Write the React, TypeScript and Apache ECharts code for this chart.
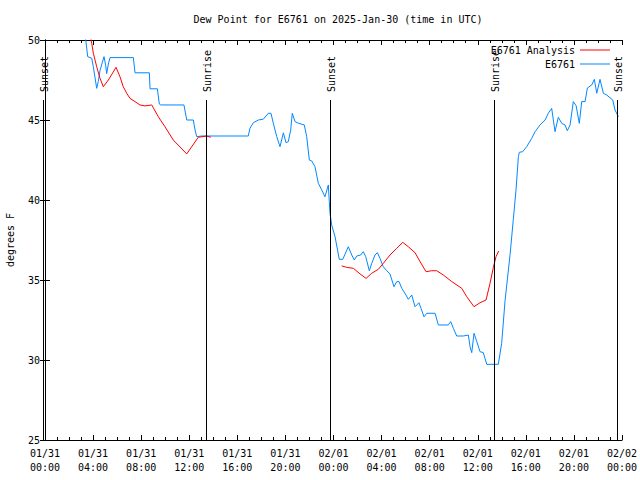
import React, { useEffect, useRef } from "react";
import * as echarts from "echarts";

// Hours since 2025-01-31 00:00 UTC
const tickDates = ["01/31", "01/31", "01/31", "01/31", "01/31", "01/31", "02/01", "02/01", "02/01", "02/01", "02/01", "02/01", "02/02"];
const tickTimes = ["00:00", "04:00", "08:00", "12:00", "16:00", "20:00", "00:00", "04:00", "08:00", "12:00", "16:00", "20:00", "00:00"];

const sunHours = [-0.19, 13.38, 23.71, 37.38, 47.61];
const sunLabels = ["Sunset", "Sunrise", "Sunset", "Sunrise", "Sunset"];

const obsHours = [
  3.3, 3.39, 3.55, 3.89, 4.02, 4.3, 4.43, 4.58, 4.77, 4.91, 5.05, 5.13, 5.27, 5.41, 7.35, 7.49, 8.68, 8.74, 9.35, 9.51,
  9.63, 11.56, 11.79, 12.34, 12.48, 12.62, 13.04, 16.91, 17.05, 17.33, 17.75, 18.16, 18.58, 18.8, 18.99, 19.28, 19.55, 19.83, 20.05, 20.24,
  20.44, 20.57, 20.8, 21.07, 21.57, 21.77, 21.99, 22.19, 22.46, 22.74, 23.02, 23.29, 23.57, 23.65, 23.71, 23.85, 24.13, 24.48, 24.77, 25.23,
  25.52, 25.73, 25.93, 26.26, 26.48, 26.68, 26.98, 27.18, 27.45, 27.65, 27.87, 28.14, 28.43, 28.7, 29.03, 29.26, 29.45, 29.68, 30.03, 30.22,
  30.51, 30.78, 31.11, 31.28, 31.53, 31.76, 32.45, 32.72, 33.55, 33.75, 33.97, 34.25, 34.8, 35.22, 35.36, 35.5, 35.69, 35.92, 36.19, 36.46,
  36.75, 37.71, 37.99, 38.27, 38.69, 38.96, 39.18, 39.38, 39.46, 39.74, 40.07, 40.49, 40.77, 41.18, 41.6, 41.87, 42.15, 42.43, 42.7, 42.99,
  43.26, 43.45, 43.68, 43.95, 44.18, 44.45, 44.65, 44.93, 45.12, 45.48, 45.7, 45.9, 46.17, 46.45, 46.73, 47.23, 47.42, 47.7,
];
const obsValues = [
  50.4, 50.0, 48.96, 48.86, 48.33, 46.98, 47.4, 48.1, 48.6, 48.96, 48.4, 47.9, 48.5, 48.9, 48.9, 47.95, 47.95, 46.95, 46.95, 46.0,
  45.94, 45.94, 45.0, 45.0, 44.38, 43.96, 44.0, 44.0, 44.48, 44.83, 45.0, 45.05, 45.42, 45.42, 44.8, 43.96, 43.33, 44.2, 43.58, 43.65,
  44.38, 45.42, 44.9, 44.8, 44.69, 43.96, 42.5, 42.44, 42.08, 41.04, 40.63, 40.2, 40.94, 39.9, 39.17, 38.44, 37.7, 36.29, 36.29, 37.08,
  36.56, 36.25, 36.5, 36.56, 36.77, 36.46, 35.58, 36.04, 36.56, 36.71, 36.35, 35.83, 35.58, 35.38, 34.58, 34.9, 34.9, 34.48, 34.06, 33.79,
  34.06, 33.33, 33.58, 33.23, 32.7, 32.92, 32.92, 32.19, 32.19, 32.4, 31.98, 31.5, 31.5, 31.56, 30.83, 30.46, 31.67, 31.15, 30.52, 30.46,
  29.73, 29.73, 31.04, 33.7, 36.6, 38.8, 40.6, 42.71, 42.98, 43.02, 43.33, 43.85, 44.27, 44.69, 45.0, 45.42, 45.73, 44.27, 45.17, 44.79,
  44.69, 44.33, 44.69, 46.15, 45.9, 44.79, 46.15, 46.15, 47.0, 47.19, 47.54, 46.67, 47.54, 46.67, 46.56, 46.25, 45.63, 45.2,
];

const anaHours = [
  3.75, 3.89, 4.02, 4.3, 4.58, 4.85, 5.27, 5.68, 5.91, 6.24, 6.51, 6.8, 7.07, 7.49, 7.9, 8.32, 8.88, 9.43, 9.98, 10.67,
  11.79, 12.75, 13.45, 13.79, 19.0,
  24.68, 25.1, 25.65, 26.21, 26.71, 27.18, 27.73, 28.14, 28.7, 29.26, 29.76, 30.22, 30.78, 31.2, 31.7, 32.17, 32.59, 33.14, 33.84, 34.67,
  35.08, 35.69, 36.19, 36.69, 37.02, 37.3, 37.52, 37.74,
];
const anaValues: (number | null)[] = [
  50.3, 49.79, 49.17, 48.33, 47.6, 47.08, 47.5, 48.0, 48.29, 47.7, 47.08, 46.67, 46.35, 46.15, 45.94, 45.88, 45.94, 45.2, 44.58, 43.75,
  42.88, 43.92, 44.0, 43.92, null,
  35.88, 35.79, 35.73, 35.38, 35.1, 35.42, 35.67, 36.04, 36.56, 36.98, 37.35, 37.08, 36.71, 36.15, 35.52, 35.58, 35.58, 35.31, 34.9, 34.48,
  33.96, 33.33, 33.58, 33.75, 34.79, 35.79, 36.46, 36.81,
];

const FONT = '"DejaVu Sans Mono", "Liberation Mono", monospace';
const SUN_LINE_TOP = 46.25;

export default function App() {
  const ref = useRef<HTMLDivElement>(null);
  useEffect(() => {
    if (!ref.current) return;
    const chart = echarts.init(ref.current, null, { renderer: "svg" });
    const xCommon = {
      type: "value" as const,
      min: 0,
      max: 48,
      interval: 4,
      splitLine: { show: false },
      axisLine: { show: true, lineStyle: { color: "#000", width: 1 } },
      axisTick: { show: true, inside: true, length: 5, lineStyle: { color: "#000" } },
      minorTick: { show: true, splitNumber: 4, length: 3, lineStyle: { color: "#000" } },
    };
    const yCommon = {
      type: "value" as const,
      min: 25,
      max: 50,
      interval: 5,
      splitLine: { show: false },
      axisLine: { show: true, lineStyle: { color: "#000", width: 1 } },
      axisTick: { show: true, inside: true, length: 5, lineStyle: { color: "#000" } },
    };
    chart.setOption({
      animation: false,
      backgroundColor: "#fff",
      title: {
        text: "Dew Point for E6761 on 2025-Jan-30 (time in UTC)",
        left: 333,
        textAlign: "center",
        top: 9,
        textStyle: { fontFamily: FONT, fontSize: 10, fontWeight: "normal", color: "#000" },
      },
      grid: { left: 45, right: 18, top: 40, bottom: 40, containLabel: false, outerBoundsMode: "none" },
      legend: {
        data: ["E6761 Analysis", "E6761"],
        orient: "vertical",
        right: 25,
        top: 40,
        align: "right",
        icon: "rect",
        itemWidth: 30,
        itemHeight: 1,
        itemGap: 4,
        textStyle: { fontFamily: FONT, fontSize: 10, color: "#000" },
      },
      xAxis: [
        {
          ...xCommon,
          position: "bottom",
          axisLabel: {
            show: true,
            margin: 6,
            fontFamily: FONT,
            fontSize: 10,
            color: "#000",
            lineHeight: 14,
            formatter: (v: number) => {
              const i = Math.round(v / 4);
              return tickDates[i] + "\n" + tickTimes[i];
            },
          },
        },
        { ...xCommon, position: "top", axisLabel: { show: false } },
      ],
      yAxis: [
        {
          ...yCommon,
          position: "left",
          name: "degrees F",
          nameLocation: "middle",
          nameGap: 30,
          nameTextStyle: { fontFamily: FONT, fontSize: 10, color: "#000" },
          axisLabel: { show: true, margin: 5, fontFamily: FONT, fontSize: 10, color: "#000" },
        },
        { ...yCommon, position: "right", axisLabel: { show: false } },
      ],
      series: [
        {
          name: "E6761",
          type: "line",
          xAxisIndex: 0,
          yAxisIndex: 0,
          data: obsHours.map((h, i) => [h, obsValues[i]]),
          showSymbol: false,
          symbol: "none",
          lineStyle: { color: "#0088ff", width: 1 },
          itemStyle: { color: "#0088ff" },
          z: 2,
          clip: true,
        },
        {
          name: "E6761 Analysis",
          type: "line",
          xAxisIndex: 0,
          yAxisIndex: 0,
          data: anaHours.map((h, i) => [h, anaValues[i]]),
          connectNulls: false,
          showSymbol: false,
          symbol: "none",
          lineStyle: { color: "#ff0000", width: 1 },
          itemStyle: { color: "#ff0000" },
          z: 3,
          clip: true,
        },
        {
          name: "sun",
          type: "custom",
          xAxisIndex: 0,
          yAxisIndex: 0,
          clip: false,
          silent: true,
          z: 4,
          data: sunHours.map((h) => [h]),
          renderItem: (params: any, api: any) => {
            const top = api.coord([api.value(0), SUN_LINE_TOP]);
            const bottom = api.coord([api.value(0), 25]);
            const x = Math.round(top[0]) + 0.5;
            return {
              type: "group",
              children: [
                {
                  type: "line",
                  shape: { x1: x, y1: top[1], x2: x, y2: bottom[1] },
                  style: { stroke: "#000", lineWidth: 1 },
                },
                {
                  type: "text",
                  x: x + 1,
                  y: top[1] - 8,
                  rotation: Math.PI / 2,
                  style: {
                    text: sunLabels[params.dataIndex],
                    fill: "#000",
                    font: `10px ${FONT}`,
                    align: "left",
                    verticalAlign: "middle",
                  },
                },
              ],
            };
          },
        },
      ],
    });
    return () => chart.dispose();
  }, []);
  return <div ref={ref} style={{ position: "absolute", left: 0, top: 0, width: 640, height: 480 }} />;
}
